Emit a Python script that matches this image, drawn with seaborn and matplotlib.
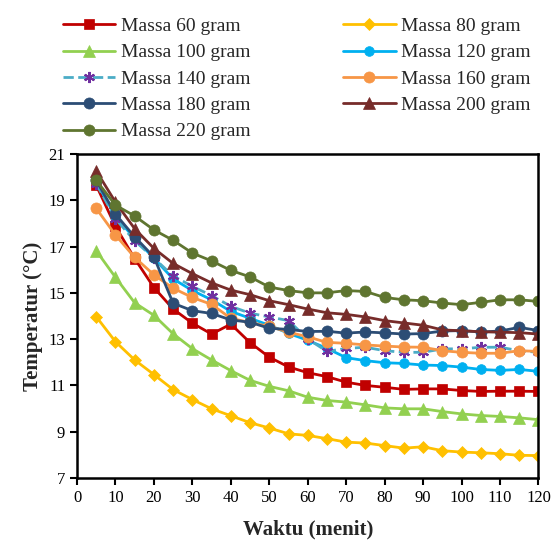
import matplotlib
matplotlib.use('Agg')
import matplotlib.pyplot as plt
import numpy as np
import pandas as pd
import seaborn as sns
from matplotlib.ticker import MultipleLocator

sns.set_style('ticks')
plt.rcParams['font.family'] = ['Liberation Serif', 'DejaVu Serif']

# data
waktu = list(range(5, 125, 5))
labels = ['Massa 60 gram', 'Massa 80 gram', 'Massa 100 gram', 'Massa 120 gram',
          'Massa 140 gram', 'Massa 160 gram', 'Massa 180 gram', 'Massa 200 gram',
          'Massa 220 gram']
m60 = [19.65, 17.87, 16.48, 15.23, 14.3, 13.69, 13.22, 13.65, 12.85, 12.22, 11.8, 11.55,
       11.38, 11.14, 11.0, 10.92, 10.83, 10.85, 10.85, 10.78, 10.74, 10.75, 10.75, 10.74]
m80 = [13.97, 12.89, 12.1, 11.47, 10.82, 10.39, 9.99, 9.69, 9.39, 9.16, 8.91, 8.84,
       8.70, 8.55, 8.51, 8.40, 8.29, 8.35, 8.18, 8.12, 8.09, 8.05, 7.98, 7.97]
m100 = [16.82, 15.67, 14.57, 14.03, 13.23, 12.59, 12.1, 11.64, 11.22, 10.96, 10.77, 10.49,
        10.35, 10.28, 10.16, 10.03, 9.99, 9.99, 9.87, 9.77, 9.70, 9.66, 9.60, 9.52]
m120 = [19.8, 18.3, 17.35, 16.5, 15.6, 15.1, 14.7, 14.2, 13.9, 13.6, 13.25, 12.95,
        12.6, 12.2, 12.07, 11.98, 11.95, 11.88, 11.86, 11.79, 11.69, 11.65, 11.69, 11.61]
m140 = [19.72, 18.2, 17.25, 16.5, 15.73, 15.28, 14.88, 14.42, 14.12, 13.96, 13.8, 13.01,
        12.47, 12.6, 12.65, 12.5, 12.43, 12.43, 12.58, 12.58, 12.65, 12.65, 12.5, 12.43]
m160 = [18.65, 17.5, 16.53, 15.78, 15.2, 14.8, 14.5, 13.9, 13.72, 13.55, 13.3, 13.1,
        12.86, 12.82, 12.75, 12.7, 12.66, 12.65, 12.5, 12.43, 12.39, 12.39, 12.5, 12.47]
m180 = [19.86, 18.4, 17.42, 16.55, 14.55, 14.23, 14.11, 13.83, 13.73, 13.47, 13.42, 13.33,
        13.34, 13.26, 13.31, 13.27, 13.22, 13.24, 13.35, 13.37, 13.31, 13.35, 13.51, 13.37]
m200 = [20.27, 18.92, 17.77, 16.92, 16.27, 15.83, 15.43, 15.12, 14.92, 14.66, 14.49, 14.3,
        14.14, 14.07, 13.96, 13.8, 13.7, 13.6, 13.4, 13.36, 13.32, 13.3, 13.28, 13.22]
m220 = [19.86, 18.79, 18.32, 17.72, 17.27, 16.72, 16.38, 15.97, 15.69, 15.25, 15.1, 15.0,
        15.0, 15.1, 15.06, 14.8, 14.7, 14.66, 14.56, 14.49, 14.59, 14.7, 14.7, 14.63]
series = [m60, m80, m100, m120, m140, m160, m180, m200, m220]
y_ticks = [7, 9, 11, 13, 15, 17, 19, 21]

rows = []
for lab, vals in zip(labels, series):
    for t, v in zip(waktu, vals):
        rows.append({'Waktu': t, 'Suhu': v, 'Massa': lab})
df = pd.DataFrame(rows)

# style per series: line colour, marker, marker colour, size, dashed
gaya = {
    'Massa 60 gram': ('#C00000', 's', '#C00000', 7, False),
    'Massa 80 gram': ('#FFC000', 'D', '#FFC000', 6, False),
    'Massa 100 gram': ('#92D050', '^', '#92D050', 8, False),
    'Massa 120 gram': ('#00B0F0', 'o', '#00B0F0', 7, False),
    'Massa 140 gram': ('#4BACC6', (6, 2, 0), '#7030A0', 8, True),
    'Massa 160 gram': ('#F79646', 'o', '#F79646', 8, False),
    'Massa 180 gram': ('#2C4D75', 'o', '#2C4D75', 8, False),
    'Massa 200 gram': ('#772C2A', '^', '#772C2A', 8, False),
    'Massa 220 gram': ('#5F7530', 'o', '#5F7530', 8, False),
}

fig = plt.figure(figsize=(5.52, 5.43), dpi=100)
ax = fig.add_axes([0.1395, 0.1197, 0.836, 0.5967])

for lab in labels:
    col, mk, mcol, ms, dashed = gaya[lab]
    sub = df[df['Massa'] == lab]
    sns.lineplot(data=sub, x='Waktu', y='Suhu', ax=ax, color=col, marker=mk,
                 markersize=ms, markerfacecolor=mcol, markeredgecolor=mcol,
                 markeredgewidth=1.5 if dashed else 0.5, linewidth=2,
                 linestyle='--' if dashed else '-', label=lab)

ax.set_xlim(0, 120)
ax.set_ylim(7, 21)
ax.xaxis.set_major_locator(MultipleLocator(10))
ax.set_yticks(y_ticks)
ax.tick_params(axis='both', direction='out', length=5, width=1.5, labelsize=12, colors='black')
for sp in ax.spines.values():
    sp.set_linewidth(1.8)
    sp.set_color('black')
ax.set_xlabel('Waktu (menit)', fontsize=15, fontweight='bold', labelpad=10)
ax.set_ylabel('Temperatur (°C)', fontsize=15, fontweight='bold', labelpad=4)

# legend: two columns, row-wise order as in the original
handles, labs = ax.get_legend_handles_labels()
if ax.get_legend():
    ax.get_legend().remove()
order = [0, 2, 4, 6, 8, 1, 3, 5, 7]
fig.legend([handles[i] for i in order], [labs[i] for i in order], ncol=2,
           loc='upper left', bbox_to_anchor=(0.089, 0.993), frameon=False,
           fontsize=14, handlelength=2.7, handletextpad=0.3, columnspacing=4.75,
           labelspacing=0.45, borderaxespad=0.3)

plt.savefig('out.png', dpi=100)
